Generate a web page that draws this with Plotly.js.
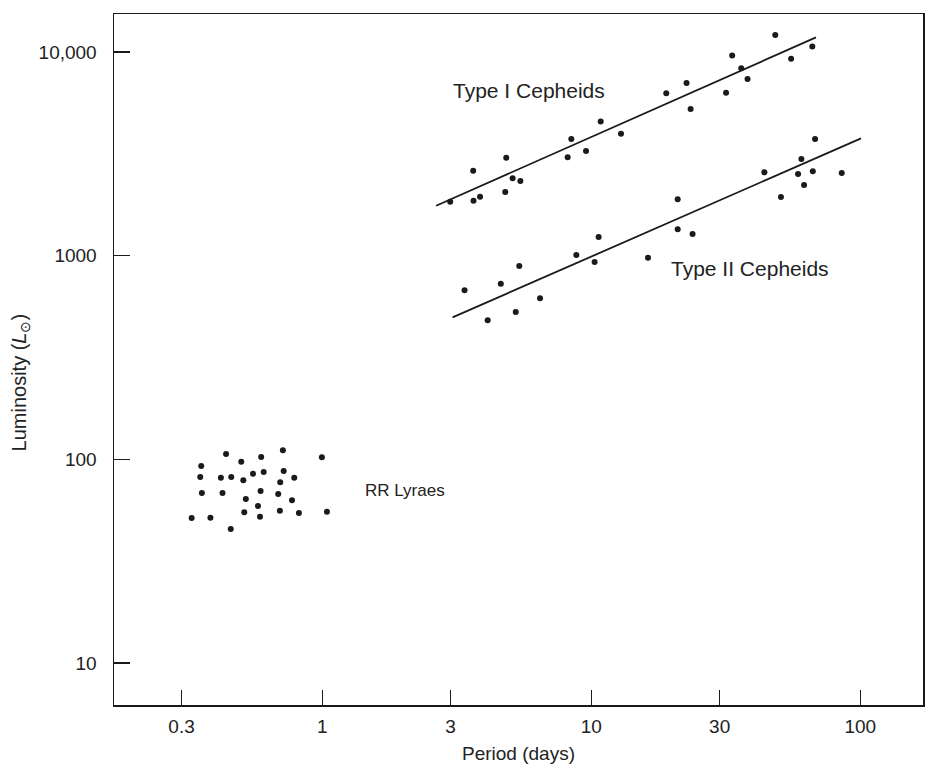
<!DOCTYPE html>
<html>
<head>
<meta charset="utf-8">
<script src="https://cdn.plot.ly/plotly-3.0.1.min.js"></script>
<style>html,body{margin:0;padding:0;background:#fff;}#chart{width:931px;height:776px;}</style>
</head>
<body>
<div id="chart"></div>
<script>
// Type I Cepheids: period (days), luminosity (L_sun)
const typeIPeriod = [2.99, 3.64, 3.65, 3.86, 4.83, 4.79, 5.10, 5.45, 8.17, 8.43, 9.56, 10.84, 12.90, 19.0, 22.6, 23.4, 33.4, 31.7, 36.1, 38.1, 48.3, 55.3, 66.3];
const typeILum    = [1841, 2615, 1862, 1949, 3028, 2055, 2399, 2326, 3041, 3741, 3266, 4568, 3971, 6270, 7042, 5251, 9634, 6313, 8318, 7368, 12120, 9271, 10665];
const typeIFitPeriod = [2.65, 68.4];
const typeIFitLum    = [1760, 11810];

// Type II Cepheids
const typeIIPeriod = [3.38, 4.12, 4.61, 5.24, 5.40, 6.45, 8.80, 10.29, 10.65, 16.25, 20.95, 20.95, 23.8, 44.0, 50.7, 58.7, 60.4, 61.8, 66.6, 67.9, 85.3];
const typeIILum    = [676, 482, 729, 529, 890, 618, 1008, 931, 1235, 978, 1892, 1348, 1278, 2567, 1943, 2518, 2983, 2224, 2596, 3741, 2547];
const typeIIFitPeriod = [3.05, 100.6];
const typeIIFitLum    = [498, 3770];

// RR Lyrae stars
const rrPeriod = [0.439, 0.593, 0.714, 0.997, 0.355, 0.500, 0.352, 0.420, 0.459, 0.553, 0.606, 0.719, 0.509, 0.698, 0.787, 0.357, 0.426, 0.590, 0.686, 0.520, 0.772, 0.577, 0.513, 0.696, 0.819, 0.587, 0.327, 0.384, 1.041, 0.457];
const rrLum    = [106.3, 102.8, 110.8, 102.4, 92.8, 97.4, 81.9, 81.3, 81.9, 85.1, 86.7, 87.7, 79.0, 77.2, 81.3, 68.4, 68.4, 70.0, 67.6, 63.9, 63.0, 59.0, 55.0, 56.0, 54.6, 52.3, 51.6, 51.7, 55.4, 45.5];

// Axis ticks
const xTickVals = [0.3, 1, 3, 10, 30, 100];
const xTickText = ["0.3", "1", "3", "10", "30", "100"];
const yTickVals = [10, 100, 1000, 10000];
const yTickText = ["10", "100", "1000", "10,000"];

const ink = '#1a1a1a';
const FONT = 'Liberation Sans, Arial, sans-serif';
const marker = {size: 6, color: ink};

const traces = [
  {x: typeIPeriod, y: typeILum, mode: 'markers', type: 'scatter', marker: marker, name: 'Type I Cepheids'},
  {x: typeIFitPeriod, y: typeIFitLum, mode: 'lines', type: 'scatter', line: {color: ink, width: 1.8}, name: 'Type I fit'},
  {x: typeIIPeriod, y: typeIILum, mode: 'markers', type: 'scatter', marker: marker, name: 'Type II Cepheids'},
  {x: typeIIFitPeriod, y: typeIIFitLum, mode: 'lines', type: 'scatter', line: {color: ink, width: 1.8}, name: 'Type II fit'},
  {x: rrPeriod, y: rrLum, mode: 'markers', type: 'scatter', marker: marker, name: 'RR Lyraes'}
];

const layout = {
  width: 931, height: 776,
  margin: {l: 114, r: 8, t: 14, b: 71},
  paper_bgcolor: '#fff', plot_bgcolor: '#fff',
  showlegend: false,
  font: {family: FONT, color: '#222', size: 19},
  xaxis: {
    type: 'log', range: [-0.774, 2.233],
    tickmode: 'array', tickvals: xTickVals, ticktext: xTickText,
    ticks: 'inside', ticklen: 15, tickwidth: 1.3, tickcolor: ink,
    showline: true, linecolor: ink, linewidth: 1.5, mirror: true,
    showgrid: false, zeroline: false,
    tickfont: {family: FONT, size: 19, color: '#222'},
    ticklabelstandoff: 4,
    title: {text: 'Period (days)', font: {family: FONT, size: 19, color: '#222'}, standoff: 10}
  },
  yaxis: {
    type: 'log', range: [0.794, 4.187],
    tickmode: 'array', tickvals: yTickVals, ticktext: yTickText,
    ticks: 'inside', ticklen: 16, tickwidth: 1.3, tickcolor: ink,
    showline: true, linecolor: ink, linewidth: 1.5, mirror: true,
    showgrid: false, zeroline: false,
    tickfont: {family: FONT, size: 19, color: '#222'},
    ticklabelstandoff: 12
  },
  annotations: [
    {text: 'Luminosity (<i>L</i><sub>⊙</sub>)', xref: 'paper', yref: 'paper', x: -0.116, y: 0.467, xanchor: 'center', yanchor: 'middle', textangle: -90, showarrow: false, font: {family: FONT, size: 20, color: '#222'}},
    {text: 'Type I Cepheids', xref: 'x', yref: 'y', x: 0.478, y: 3.809, xanchor: 'left', yanchor: 'middle', showarrow: false, font: {family: FONT, size: 21, color: '#222'}},
    {text: 'Type II Cepheids', xref: 'x', yref: 'y', x: 1.289, y: 2.935, xanchor: 'left', yanchor: 'middle', showarrow: false, font: {family: FONT, size: 21, color: '#222'}},
    {text: 'RR Lyraes', xref: 'x', yref: 'y', x: 0.151, y: 1.845, xanchor: 'left', yanchor: 'middle', showarrow: false, font: {family: FONT, size: 17, color: '#222'}}
  ]
};

Plotly.newPlot('chart', traces, layout, {displayModeBar: false, staticPlot: true});
</script>
</body>
</html>
